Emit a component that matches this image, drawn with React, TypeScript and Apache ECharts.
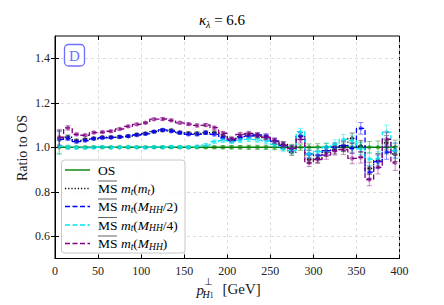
import React, { useEffect, useRef } from "react";
import * as echarts from "echarts";

const binCenters = [5, 15, 25, 35, 45, 55, 65, 75, 85, 95, 105, 115, 125, 135, 145, 155, 165, 175, 185, 195, 205, 215, 225, 235, 245, 255, 265, 275, 285, 295, 305, 315, 325, 335, 345, 355, 365, 375, 385, 395];

const osValues = [1, 1, 1, 1, 1, 1, 1, 1, 1, 1, 1, 1, 1, 1, 1, 1, 1, 1, 1, 1, 1, 1, 1, 1, 1, 1, 1, 1, 1, 1, 1, 1, 1, 1, 1, 1, 1, 1, 1, 1];
const mtMtValues = [1.040, 1.045, 1.030, 1.035, 1.040, 1.045, 1.045, 1.047, 1.050, 1.057, 1.062, 1.070, 1.076, 1.076, 1.066, 1.063, 1.062, 1.066, 1.066, 1.050, 1.034, 1.048, 1.055, 1.050, 1.043, 1.025, 1.013, 0.978, 1.050, 0.945, 0.950, 0.978, 0.990, 1.005, 1.040, 1.005, 0.905, 0.940, 1.020, 0.970];
const mtHalfValues = [1.035, 1.040, 1.025, 1.030, 1.038, 1.042, 1.044, 1.046, 1.050, 1.055, 1.060, 1.070, 1.078, 1.072, 1.065, 1.058, 1.058, 1.065, 1.058, 1.042, 1.031, 1.043, 1.050, 1.055, 1.050, 1.028, 1.007, 0.993, 1.050, 0.970, 0.963, 0.985, 1.000, 1.007, 0.995, 1.085, 0.888, 0.935, 0.978, 0.985];
const mtQuarterValues = [1.005, 1.000, 0.998, 0.997, 1.000, 1.001, 0.999, 1.000, 1.002, 1.000, 0.999, 1.001, 1.000, 1.002, 1.001, 1.000, 1.003, 1.010, 1.025, 1.030, 1.025, 1.030, 1.035, 1.032, 1.028, 1.013, 0.993, 0.985, 1.070, 0.970, 0.980, 1.000, 1.013, 1.035, 1.030, 0.993, 0.947, 0.950, 1.068, 0.985];
const mtFullValues = [1.045, 1.087, 1.058, 1.054, 1.066, 1.068, 1.072, 1.082, 1.094, 1.103, 1.110, 1.126, 1.127, 1.121, 1.110, 1.104, 1.098, 1.100, 1.088, 1.063, 1.038, 1.058, 1.062, 1.055, 1.045, 1.030, 1.010, 0.995, 1.035, 0.930, 0.945, 0.965, 0.985, 0.990, 0.950, 0.955, 0.855, 0.910, 1.036, 0.930];

const errValues = [0.035, 0.010, 0.006, 0.005, 0.005, 0.005, 0.005, 0.005, 0.005, 0.005, 0.005, 0.005, 0.006, 0.006, 0.006, 0.006, 0.007, 0.007, 0.007, 0.008, 0.009, 0.009, 0.010, 0.010, 0.011, 0.012, 0.013, 0.014, 0.015, 0.017, 0.018, 0.019, 0.020, 0.022, 0.024, 0.026, 0.028, 0.030, 0.032, 0.034];
const osErrValues = [0.030, 0.006, 0.004, 0.004, 0.004, 0.004, 0.004, 0.004, 0.004, 0.004, 0.004, 0.004, 0.005, 0.005, 0.005, 0.005, 0.006, 0.006, 0.006, 0.007, 0.008, 0.008, 0.009, 0.009, 0.010, 0.011, 0.012, 0.013, 0.014, 0.015, 0.016, 0.017, 0.018, 0.020, 0.022, 0.024, 0.026, 0.028, 0.030, 0.032];

const xTicks = [0, 50, 100, 150, 200, 250, 300, 350, 400];
const yTicks = [0.6, 0.8, 1.0, 1.2, 1.4];

const FONT = "Liberation Serif";

type SeriesDef = { name: string; values: number[]; errs: number[]; color: string; dash: any; width: number };

const seriesDefs: SeriesDef[] = [
  { name: "OS", values: osValues, errs: osErrValues, color: "#008000", dash: "solid", width: 1.4 },
  { name: "mtmt", values: mtMtValues, errs: errValues, color: "#000000", dash: [1.2, 2], width: 1.3 },
  { name: "half", values: mtHalfValues, errs: errValues, color: "#0000ff", dash: [5, 2.5], width: 1.3 },
  { name: "quarter", values: mtQuarterValues, errs: errValues, color: "#00e5ee", dash: [5, 2.5], width: 1.3 },
  { name: "full", values: mtFullValues, errs: errValues, color: "#800080", dash: [5, 2.5], width: 1.3 },
];

export default function App() {
  const ref = useRef<HTMLDivElement>(null);
  useEffect(() => {
    if (!ref.current) return;
    const chart = echarts.init(ref.current, undefined, { renderer: "svg" });
    const series: any[] = [];
    seriesDefs.forEach((s, si) => {
      series.push({
        type: "custom",
        name: s.name + "_err",
        xAxisIndex: 0,
        yAxisIndex: 0,
        z: 2 + si * 2,
        clip: true,
        data: binCenters.map((x, i) => [x, s.values[i], s.errs[i]]),
        renderItem: (params: any, api: any) => {
          const x = api.value(0);
          const y = api.value(1);
          const e = api.value(2);
          const t = api.coord([x, y + e]);
          const b = api.coord([x, y - e]);
          const cw = 2.5;
          const st = { stroke: s.color, lineWidth: 1, opacity: 0.45 };
          return {
            type: "group",
            children: [
              { type: "line", shape: { x1: t[0], y1: t[1], x2: b[0], y2: b[1] }, style: st },
              { type: "line", shape: { x1: t[0] - cw, y1: t[1], x2: t[0] + cw, y2: t[1] }, style: st },
              { type: "line", shape: { x1: b[0] - cw, y1: b[1], x2: b[0] + cw, y2: b[1] }, style: st },
            ],
          };
        },
      });
      series.push({
        type: "line",
        name: s.name,
        xAxisIndex: 0,
        yAxisIndex: 0,
        z: 3 + si * 2,
        step: "middle",
        data: binCenters.map((x, i) => [x, s.values[i]]),
        symbol: "circle",
        symbolSize: 4.5,
        showSymbol: true,
        itemStyle: { color: s.color, opacity: 0.5, borderWidth: 0 },
        lineStyle: { color: s.color, width: s.width, type: s.dash },
        emphasis: { disabled: true },
      });
    });

    const legendRows = [
      { y: 170, key: "OS" },
      { y: 188.5, key: "mtmt" },
      { y: 206.5, key: "half" },
      { y: 225, key: "quarter" },
      { y: 243.5, key: "full" },
    ];
    const rich: any = {
      n: { fontFamily: FONT, fontSize: 13.5, color: "#222", lineHeight: 16 },
      i: { fontFamily: FONT, fontSize: 13.5, fontStyle: "italic", color: "#222", lineHeight: 16 },
      s: { fontFamily: FONT, fontSize: 9.5, fontStyle: "italic", color: "#222", lineHeight: 8, verticalAlign: "bottom" },
    };
    const labelFor = (key: string) => {
      switch (key) {
        case "OS": return "{n|OS}";
        case "mtmt": return "{n|MS }{i|m}{s|t}{n|(}{i|m}{s|t}{n|)}";
        case "half": return "{n|MS }{i|m}{s|t}{n|(}{i|M}{s|HH}{n|/2)}";
        case "quarter": return "{n|MS }{i|m}{s|t}{n|(}{i|M}{s|HH}{n|/4)}";
        default: return "{n|MS }{i|m}{s|t}{n|(}{i|M}{s|HH}{n|)}";
      }
    };
    const legendEls: any[] = [
      {
        type: "rect",
        shape: { x: 61.5, y: 160, width: 123.5, height: 93, r: 3 },
        style: { fill: "rgba(255,255,255,0.85)", stroke: "#c8c8c8", lineWidth: 1 },
        z: 100,
      },
    ];
    legendRows.forEach((r) => {
      const def = seriesDefs.find((d) => d.name === r.key)!;
      legendEls.push({
        type: "line",
        shape: { x1: 65, y1: r.y, x2: 90, y2: r.y },
        style: { stroke: def.color, lineWidth: 1.4, lineDash: def.dash === "solid" ? null : def.dash },
        z: 101,
      });
      legendEls.push({
        type: "text",
        x: 98,
        y: r.y,
        style: { text: labelFor(r.key), rich, verticalAlign: "middle", align: "left" },
        z: 101,
      });
      if (r.key !== "OS") {
        legendEls.push({
          type: "line",
          shape: { x1: 98, y1: r.y - 7.5, x2: 117, y2: r.y - 7.5 },
          style: { stroke: "#222", lineWidth: 0.7 },
          z: 101,
        });
      }
    });

    const option: any = {
      animation: false,
      backgroundColor: "#ffffff",
      grid: { left: 55, right: 44.5, top: 36, bottom: 46.5, show: true, borderColor: "#000", borderWidth: 1, backgroundColor: "transparent" },
      xAxis: [
        {
          type: "value",
          min: 0,
          max: 400,
          interval: 50,
          position: "bottom",
          axisLine: { show: true, onZero: false, lineStyle: { color: "#000", width: 1 } },
          axisTick: { show: true, inside: true, length: 4, lineStyle: { color: "#000" } },
          axisLabel: { show: true, margin: 6, fontFamily: FONT, fontSize: 12, color: "#222" },
          splitLine: { show: true, lineStyle: { color: "#d4d4d4", type: [3, 3], width: 0.8 } },
        },
        {
          type: "value",
          min: 0,
          max: 400,
          interval: 50,
          position: "top",
          axisLine: { show: false },
          axisTick: { show: true, inside: true, length: 4, lineStyle: { color: "#000" } },
          axisLabel: { show: false },
          splitLine: { show: false },
        },
      ],
      yAxis: [
        {
          type: "value",
          min: 0.5,
          max: 1.5,
          position: "left",
          axisLine: { show: true, onZero: false, lineStyle: { color: "#000", width: 1 } },
          axisTick: { show: true, inside: true, length: 4, lineStyle: { color: "#000" }, customValues: yTicks },
          axisLabel: { show: true, margin: 5, fontFamily: FONT, fontSize: 12, color: "#222", customValues: yTicks, formatter: (v: number) => v.toFixed(1) },
          splitLine: { show: true, lineStyle: { color: "#d4d4d4", type: [3, 3], width: 0.8 } },
        },
        {
          type: "value",
          min: 0.5,
          max: 1.5,
          position: "right",
          axisLine: { show: false },
          axisTick: { show: true, inside: true, length: 4, lineStyle: { color: "#000" }, customValues: yTicks },
          axisLabel: { show: false, customValues: yTicks },
          splitLine: { show: false },
        },
      ],
      series,
      graphic: [
        {
          type: "text",
          x: 222,
          y: 20,
          style: {
            text: "{i|κ}{s|λ}{n| = 6.6}",
            align: "center",
            verticalAlign: "middle",
            rich: {
              n: { fontFamily: FONT, fontSize: 15, color: "#222", lineHeight: 18 },
              i: { fontFamily: FONT, fontSize: 15, fontStyle: "italic", color: "#222", lineHeight: 18 },
              s: { fontFamily: FONT, fontSize: 10, fontStyle: "italic", color: "#222", lineHeight: 8, verticalAlign: "bottom" },
            },
          },
        },
        {
          type: "text",
          x: 22,
          y: 148,
          rotation: Math.PI / 2,
          style: { text: "Ratio to OS", fontFamily: FONT, fontSize: 14, fill: "#222", align: "center", verticalAlign: "middle" },
        },
        { type: "text", x: 196.5, y: 290, style: { text: "p", fontFamily: FONT, fontSize: 15, fontStyle: "italic", fill: "#222", align: "left", verticalAlign: "middle" } },
        { type: "text", x: 203.5, y: 282, style: { text: "⊥", fontFamily: FONT, fontSize: 9.5, fill: "#222", align: "left", verticalAlign: "middle" } },
        {
          type: "text",
          x: 202.5,
          y: 294,
          style: {
            text: "{i|H}{s|1}",
            align: "left",
            verticalAlign: "middle",
            rich: {
              i: { fontFamily: FONT, fontSize: 10, fontStyle: "italic", color: "#222", lineHeight: 11 },
              s: { fontFamily: FONT, fontSize: 7.5, color: "#222", lineHeight: 6, verticalAlign: "bottom" },
            },
          },
        },
        { type: "text", x: 222.5, y: 289, style: { text: "[GeV]", fontFamily: FONT, fontSize: 15, fill: "#222", align: "left", verticalAlign: "middle" } },
        {
          type: "rect",
          shape: { x: 64.5, y: 44.5, width: 20, height: 21.5, r: 4 },
          style: { fill: "rgba(255,255,255,0.9)", stroke: "#6f6fff", lineWidth: 1.3 },
          z: 100,
        },
        { type: "text", x: 74.5, y: 55.5, z: 101, style: { text: "D", fontFamily: FONT, fontSize: 15, fill: "#6f6fff", align: "center", verticalAlign: "middle" } },
        ...legendEls,
      ],
    };
    chart.setOption(option);
    return () => chart.dispose();
  }, []);
  return <div ref={ref} style={{ width: 444, height: 305, position: "absolute", left: 0, top: 0 }} />;
}
